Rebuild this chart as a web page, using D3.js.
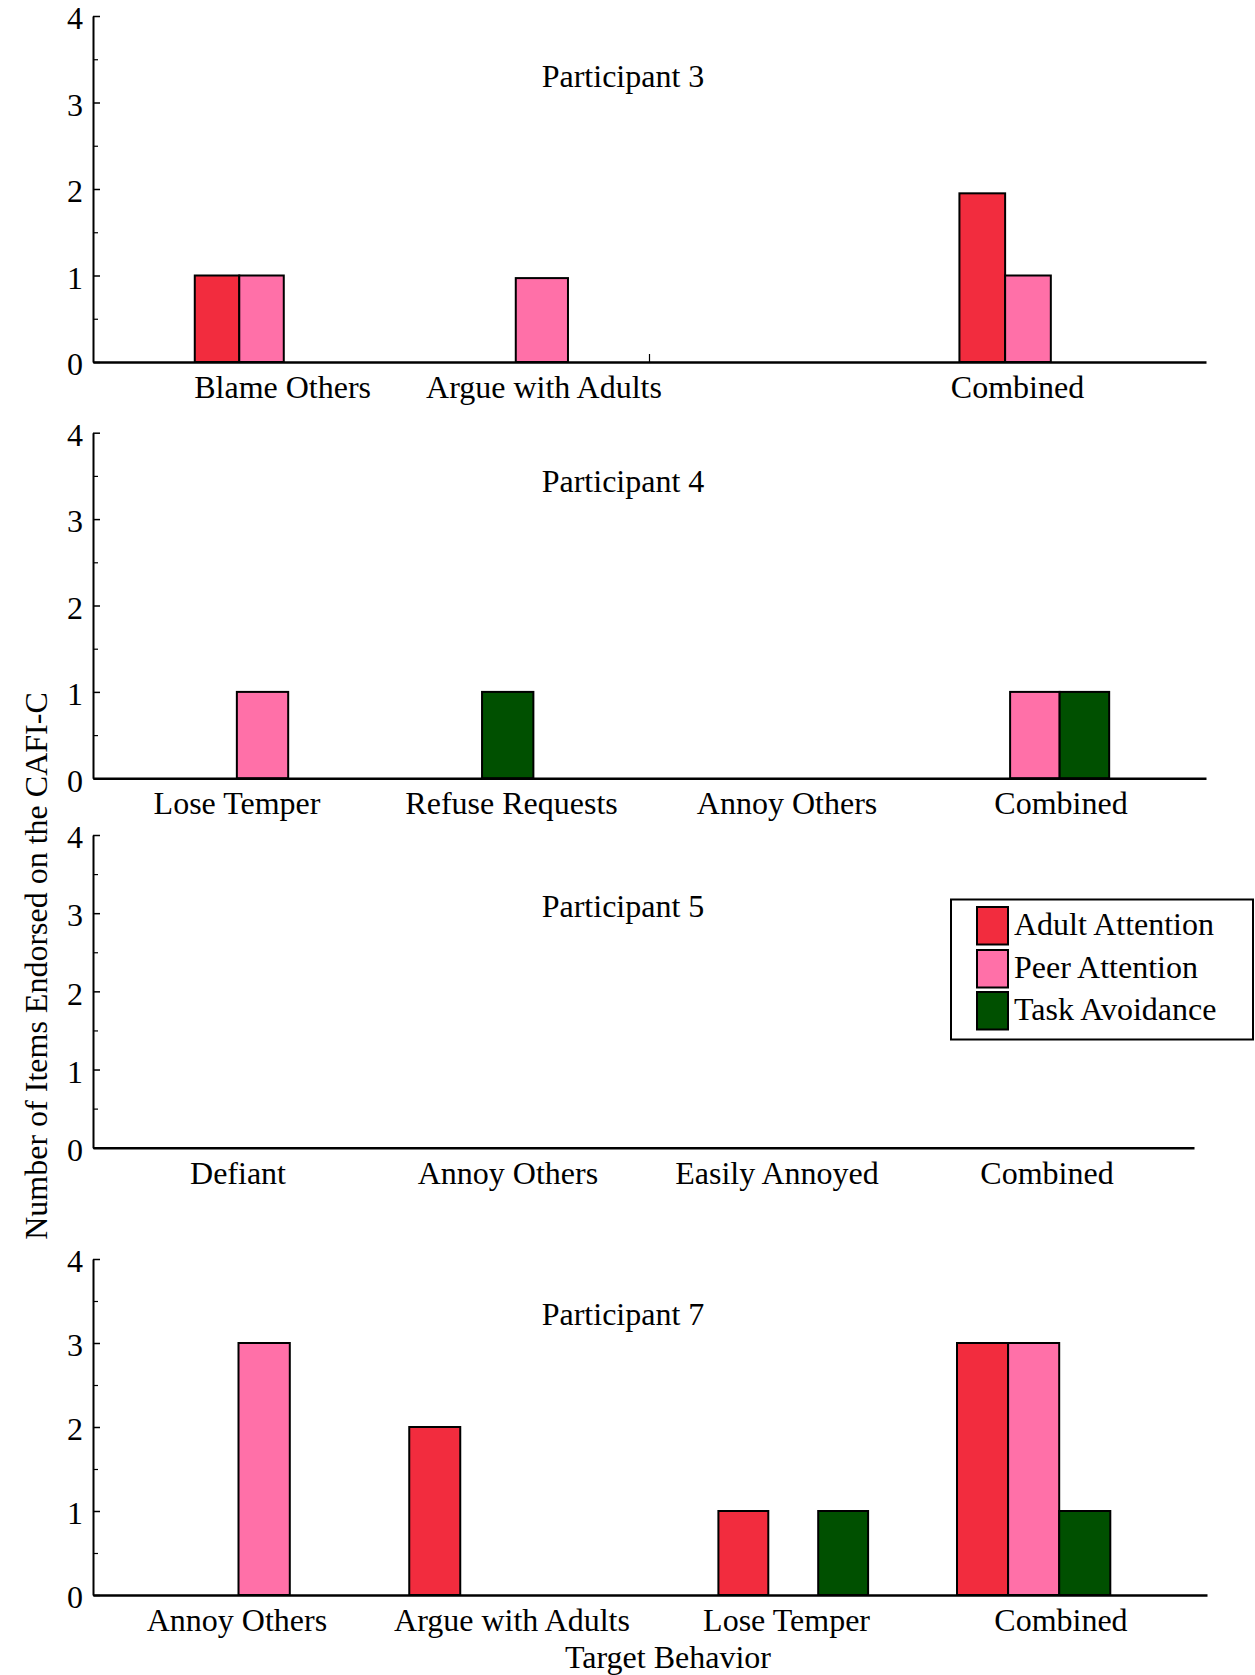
<!DOCTYPE html>
<html>
<head>
<meta charset="utf-8">
<script src="https://cdn.jsdelivr.net/npm/d3@7"></script>
<style>
  html, body { margin: 0; padding: 0; background: #fff; }
  svg { display: block; }
  text { font-family: "Liberation Serif", "Times New Roman", Times, serif; fill: #000; }
</style>
</head>
<body>
<svg id="chart" width="1255" height="1675"></svg>
<script>
// Number of CAFI-C items endorsed per function, by target behavior and participant

const seriesNames  = ["Adult Attention", "Peer Attention", "Task Avoidance"];
const seriesColors = ["#f22c3e", "#ff70a8", "#005000"];
const yTickValues  = [0, 1, 2, 3, 4];
const yMinorTicks  = [0.5, 1.5, 2.5, 3.5];
const participantTitles = ["Participant 3", "Participant 4", "Participant 5", "Participant 7"];

const p3Behaviors = ["Blame Others", "Argue with Adults", "", "Combined"];
const p3Adult = [1, 0, 0, 1.95];
const p3Peer  = [1, 0.97, 0, 1];
const p3Task  = [0, 0, 0, 0];

const p4Behaviors = ["Lose Temper", "Refuse Requests", "Annoy Others", "Combined"];
const p4Adult = [0, 0, 0, 0];
const p4Peer  = [1, 0, 0, 1];
const p4Task  = [0, 1, 0, 1];

const p5Behaviors = ["Defiant", "Annoy Others", "Easily Annoyed", "Combined"];
const p5Adult = [0, 0, 0, 0];
const p5Peer  = [0, 0, 0, 0];
const p5Task  = [0, 0, 0, 0];

const p7Behaviors = ["Annoy Others", "Argue with Adults", "Lose Temper", "Combined"];
const p7Adult = [0, 2, 1, 3];
const p7Peer  = [3, 0, 0, 3];
const p7Task  = [0, 0, 1, 1];

const axisTitleX = "Target Behavior";
const axisTitleY = "Number of Items Endorsed on the CAFI-C";

// assemble per-panel data
const panelData = [
  { behaviors: p3Behaviors, values: [p3Adult, p3Peer, p3Task] },
  { behaviors: p4Behaviors, values: [p4Adult, p4Peer, p4Task] },
  { behaviors: p5Behaviors, values: [p5Adult, p5Peer, p5Task] },
  { behaviors: p7Behaviors, values: [p7Adult, p7Peer, p7Task] }
];

// ---- layout (pixels) ----
const FONT = 32;
const xStart = 93;
const titleCenterX = 623;
const panelLayout = [
  { top: 16,    bottom: 362,    xEnd: 1206, titleY: 87,
    groupShift: [29.4, 31.5, 0, -38.9], groupWidth: [133.5, 156.6, 140, 137.1],
    labelShift: [50.5, 33.6, 0, -49.4], boundaryTicks: [2] },
  { top: 432.7, bottom: 778.3,  xEnd: 1206, titleY: 491.7,
    groupShift: [30.4, -54, 0, -32], groupWidth: [154, 154, 154, 148.6],
    labelShift: [4.9, 1.2, -1.6, -5.9], boundaryTicks: [] },
  { top: 835,   bottom: 1147.7, xEnd: 1194, titleY: 917,
    groupShift: [0, 0, 0, 0], groupWidth: [150, 150, 150, 150],
    labelShift: [7.4, 2.1, -4.1, -9.4], boundaryTicks: [] },
  { top: 1259,  bottom: 1595,   xEnd: 1207, titleY: 1325,
    groupShift: [31.9, -25, 4, -34.1], groupWidth: [153.9, 153, 149.7, 153.3],
    labelShift: [4.7, 1.2, -2.7, -6.8], boundaryTicks: [] }
];
const labelBelow = 36;

const svg = d3.select("#chart");

panelData.forEach((pd, pi) => {
  const L = panelLayout[pi];
  const g = svg.append("g");

  const x0 = d3.scaleBand().domain(d3.range(pd.behaviors.length)).range([xStart, L.xEnd]);
  const y = d3.scaleLinear().domain([0, 4]).range([L.bottom, L.top]);

  // bars
  pd.behaviors.forEach((b, ci) => {
    const gw = L.groupWidth[ci];
    const x1 = d3.scaleBand().domain(seriesNames).range([0, gw]);
    const left = x0(ci) + x0.bandwidth() / 2 + L.groupShift[ci] - gw / 2;
    const items = seriesNames.map((s, si) => ({ s, si, v: pd.values[si][ci] }))
                             .filter(d => d.v > 0);
    g.selectAll(null).data(items).enter().append("rect")
      .attr("x", d => left + x1(d.s))
      .attr("width", x1.bandwidth())
      .attr("y", d => y(d.v))
      .attr("height", d => y(0) - y(d.v))
      .attr("fill", d => seriesColors[d.si])
      .attr("stroke", "#000")
      .attr("stroke-width", 2);
  });

  // y axis (ticks point inward)
  const yAxis = g.append("g").attr("transform", `translate(${xStart},0)`)
    .call(d3.axisLeft(y).tickValues(yTickValues).tickFormat(d3.format("d"))
      .tickSizeInner(-7).tickSizeOuter(0).tickPadding(10));
  yAxis.select(".domain").attr("stroke-width", 2);
  yAxis.selectAll(".tick line").attr("stroke-width", 1.5);
  yAxis.selectAll(".tick text").attr("font-size", FONT).attr("dy", "0.4em")
    .attr("font-family", '"Liberation Serif","Times New Roman",serif');

  const yMinor = g.append("g").attr("transform", `translate(${xStart},0)`)
    .call(d3.axisLeft(y).tickValues(yMinorTicks).tickFormat("").tickSizeInner(-5).tickSizeOuter(0));
  yMinor.select(".domain").remove();
  yMinor.selectAll(".tick line").attr("stroke-width", 1.2);

  // x axis line
  const xAxis = g.append("g").attr("transform", `translate(0,${y(0)})`)
    .call(d3.axisBottom(x0).tickValues([]).tickSizeOuter(0));
  xAxis.select(".domain").attr("stroke-width", 2.5);

  L.boundaryTicks.forEach(ci => {
    g.append("line")
      .attr("x1", x0(ci)).attr("x2", x0(ci))
      .attr("y1", y(0)).attr("y2", y(0) - 8)
      .attr("stroke", "#000").attr("stroke-width", 1.2);
  });

  // category labels
  g.selectAll(null).data(pd.behaviors).enter().append("text")
    .attr("x", (d, ci) => x0(ci) + x0.bandwidth() / 2 + L.labelShift[ci])
    .attr("y", y(0) + labelBelow)
    .attr("text-anchor", "middle")
    .attr("font-size", FONT)
    .text(d => d);

  // panel title
  g.append("text")
    .attr("x", titleCenterX).attr("y", L.titleY)
    .attr("text-anchor", "middle").attr("font-size", FONT)
    .text(participantTitles[pi]);
});

// axis titles
svg.append("text")
  .attr("transform", "translate(47,966) rotate(-90)")
  .attr("text-anchor", "middle").attr("font-size", FONT)
  .text(axisTitleY);

svg.append("text")
  .attr("x", 668).attr("y", 1668)
  .attr("text-anchor", "middle").attr("font-size", FONT)
  .text(axisTitleX);

// legend
const legend = { x: 951, y: 899.5, w: 302, h: 140, swX: 977, swW: 31, swH: 37.5, textX: 1014, rowY: [907, 950, 992], fs: 32 };
const lg = svg.append("g");
lg.append("rect")
  .attr("x", legend.x).attr("y", legend.y).attr("width", legend.w).attr("height", legend.h)
  .attr("fill", "#fff").attr("stroke", "#000").attr("stroke-width", 2);
const rows = lg.selectAll(null).data(seriesNames).enter().append("g")
  .attr("transform", (d, i) => `translate(0,${legend.rowY[i]})`);
rows.append("rect")
  .attr("x", legend.swX).attr("y", 0).attr("width", legend.swW).attr("height", legend.swH)
  .attr("fill", (d, i) => seriesColors[i]).attr("stroke", "#000").attr("stroke-width", 2);
rows.append("text")
  .attr("x", legend.textX).attr("y", 28)
  .attr("font-size", legend.fs)
  .text(d => d);
</script>
</body>
</html>
